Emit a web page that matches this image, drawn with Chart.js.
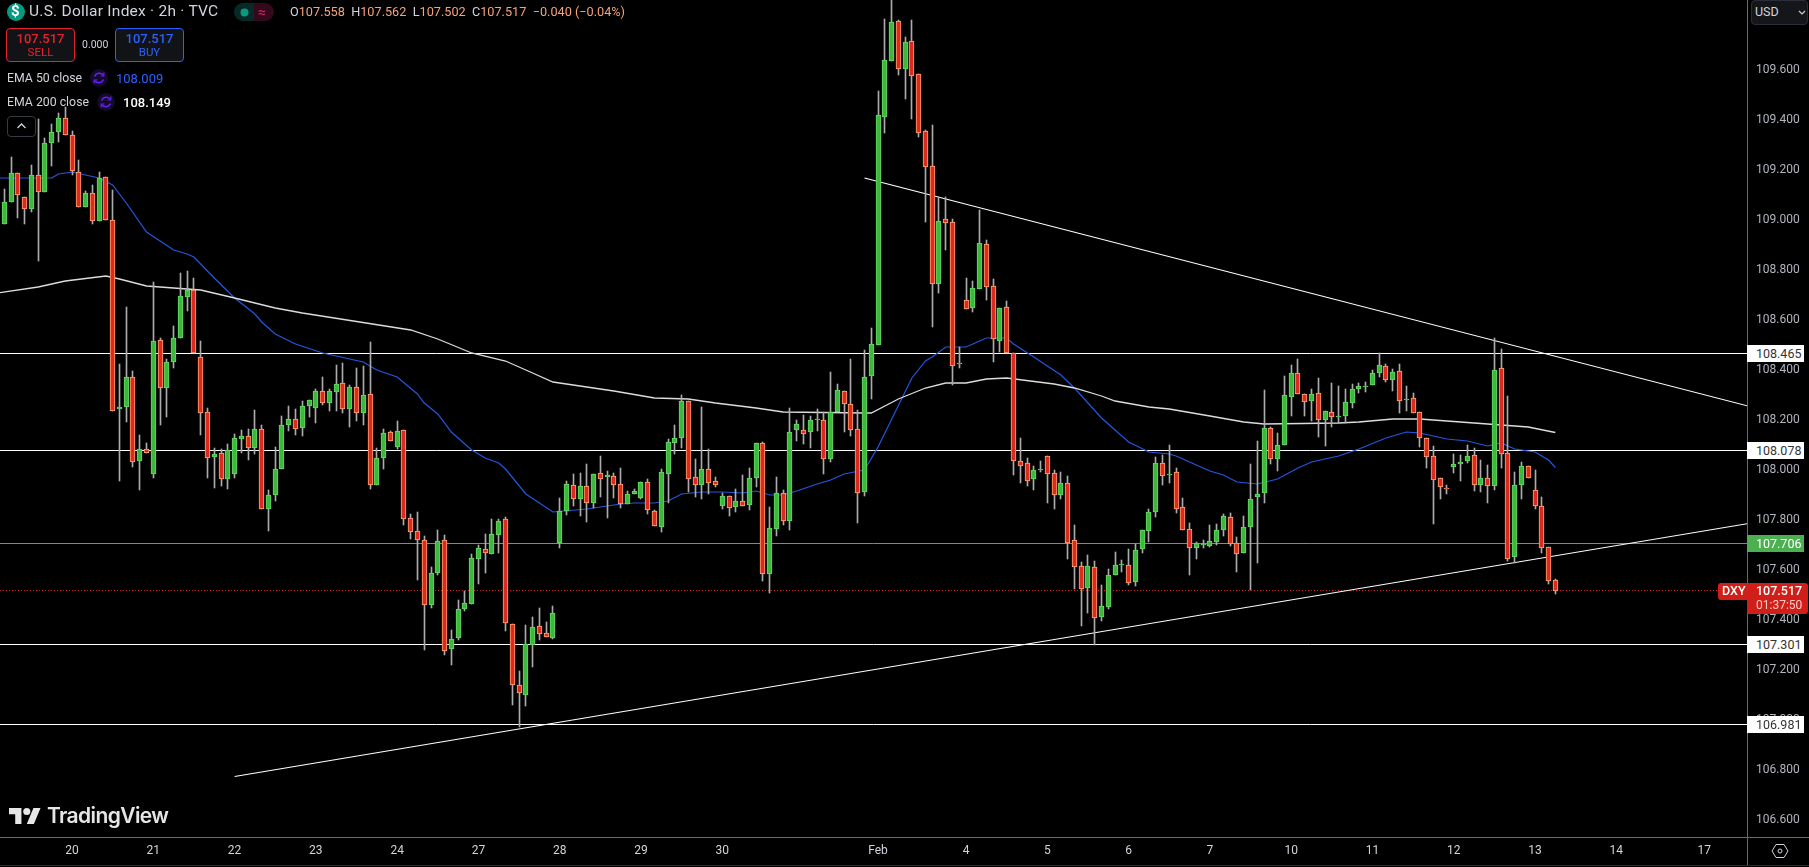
<!DOCTYPE html>
<html>
<head>
<meta charset="utf-8">
<title>U.S. Dollar Index 2h</title>
<script src="https://cdn.jsdelivr.net/npm/chart.js@4"></script>
<style>
html, body { margin: 0; padding: 0; background: #000; overflow: hidden; }
body { width: 1809px; height: 867px; position: relative; font-family: Roboto, sans-serif; }
#chart { position: absolute; left: 0; top: 0; display: block; }
.t { position: absolute; white-space: nowrap; line-height: 1; }
.box { position: absolute; box-sizing: border-box; border-radius: 4px; background: #121316; }
.tag { position: absolute; box-sizing: border-box; left: 1747px; width: 57px; height: 17px; font-size: 12.5px; line-height: 17px; padding-left: 9px; }
.rule { position: absolute; }
svg { position: absolute; }
</style>
</head>
<body>
<canvas id="chart" width="1809" height="867"></canvas>

<!-- legend -->
<svg style="left:7px;top:3px" width="18" height="18"><circle cx="9" cy="9" r="9" fill="#089981"/></svg>
<div class="t" style="left:11px;top:4px;font-size:15px;font-weight:700;color:#fff">$</div>
<div class="t" style="left:29px;top:4px;font-size:15.5px;letter-spacing:0.25px;color:#d1d4dc">U.S. Dollar Index · 2h · TVC</div>
<div class="box" style="left:234px;top:3px;width:20px;height:18px;background:#082a26;border-radius:9px 0 0 9px"></div>
<div class="box" style="left:254px;top:3px;width:20px;height:18px;background:#33091b;border-radius:0 9px 9px 0"></div>
<svg style="left:240px;top:8px" width="9" height="9"><circle cx="4.5" cy="4.5" r="4" fill="#089981"/></svg>
<div class="t" style="left:258px;top:5px;font-size:14px;color:#e91e63">≈</div>
<div class="t" id="ohlc" style="left:290px;top:6px;font-size:12.7px;color:#d1d4dc"></div>

<div class="box" style="left:6px;top:28px;width:69px;height:34px;border:1px solid #e5232e"></div>
<div class="t" style="left:6px;width:69px;text-align:center;top:32px;font-size:13px;font-weight:500;color:#e5232e">107.517</div>
<div class="t" style="left:6px;width:69px;text-align:center;top:47px;font-size:11.5px;color:#e5232e">SELL</div>
<div class="t" style="left:82px;top:40px;font-size:10.5px;color:#d1d4dc">0.000</div>
<div class="box" style="left:115px;top:28px;width:69px;height:34px;border:1px solid #2962ff"></div>
<div class="t" style="left:115px;width:69px;text-align:center;top:32px;font-size:13px;font-weight:500;color:#2962ff">107.517</div>
<div class="t" style="left:115px;width:69px;text-align:center;top:47px;font-size:11.5px;color:#2962ff">BUY</div>

<div class="t" style="left:7px;top:72px;font-size:12.3px;color:#d1d4dc">EMA 50 close</div>
<svg style="left:90px;top:69px" width="18" height="18"><circle cx="9" cy="9" r="9" fill="#140a2a"/><path d="M4.5 7.5 A5 5 0 0 1 13 6 M13.5 10.5 A5 5 0 0 1 5 12" fill="none" stroke="#651fff" stroke-width="1.6"/><path d="M13.8 3.5 V7 H10.5 M4.2 14.5 V11 H7.5" fill="none" stroke="#651fff" stroke-width="1.2"/></svg>
<div class="t" style="left:116px;top:72px;font-size:13px;color:#2962ff">108.009</div>
<div class="t" style="left:7px;top:96px;font-size:12.3px;color:#d1d4dc">EMA 200 close</div>
<svg style="left:97px;top:93px" width="18" height="18"><circle cx="9" cy="9" r="9" fill="#140a2a"/><path d="M4.5 7.5 A5 5 0 0 1 13 6 M13.5 10.5 A5 5 0 0 1 5 12" fill="none" stroke="#651fff" stroke-width="1.6"/><path d="M13.8 3.5 V7 H10.5 M4.2 14.5 V11 H7.5" fill="none" stroke="#651fff" stroke-width="1.2"/></svg>
<div class="t" style="left:123px;top:96px;font-size:13px;font-weight:500;color:#fff">108.149</div>
<div class="box" style="left:7px;top:116px;width:29px;height:21px;border:1px solid #363a45;background:#000"></div>
<svg style="left:16px;top:122px" width="11" height="8"><path d="M1.5 6 L5.5 2 L9.5 6" fill="none" stroke="#d1d4dc" stroke-width="1.3"/></svg>

<!-- watermark -->
<svg style="left:9px;top:805px" width="32" height="22" viewBox="0 3 36 20"><path d="M14 22H7V11H0V4h14v18z M28 22h-8l7.5-18h8L28 22z" fill="#e6e6e6"/><circle cx="20" cy="8" r="4" fill="#e6e6e6"/></svg>
<div class="t" style="left:47px;top:805px;font-family:Inter,sans-serif;font-size:21px;font-weight:600;color:#e6e6e6;letter-spacing:-0.6px">TradingView</div>

<!-- axis extras -->
<div class="rule" style="left:1747px;top:837px;width:62px;height:1px;background:#6a6a6a"></div>
<div class="rule" style="left:1747px;top:837px;width:1px;height:28px;background:#6a6a6a"></div>
<div class="rule" style="left:0;top:865px;width:1809px;height:1px;background:#2a2a2a"></div>
<div class="box" style="left:1751px;top:0;width:57px;height:25px;border:1px solid #2a2e39;background:#15161a"></div>
<div class="t" style="left:1755px;top:6px;font-size:12.5px;color:#d1d4dc">USD</div>
<svg style="left:1798px;top:10px" width="8" height="6"><path d="M1 1 L4 4 L7 1" fill="none" stroke="#d1d4dc" stroke-width="1.1"/></svg>
<svg style="left:1771px;top:842px" width="18" height="18"><path d="M5 2.5 H13 L17 9 L13 15.5 H5 L1 9 Z" fill="none" stroke="#d1d4dc" stroke-width="1"/><circle cx="9" cy="9" r="2" fill="none" stroke="#d1d4dc" stroke-width="1"/></svg>

<div id="tags"></div>

<script>
/* Candles, oldest first, one per 2h bar */
const opens = [
108.983,109.071,109.187,109.091,109.043,109.179,109.111,109.307,109.351,109.407,
109.339,109.191,109.051,109.107,108.995,109.171,108.999,108.243,108.251,108.371,
108.035,108.083,107.983,108.519,108.327,108.431,108.527,108.691,108.719,108.451,
108.231,108.051,108.067,107.963,107.983,108.123,108.135,108.087,108.163,107.843,
107.899,108.003,108.179,108.203,108.167,108.255,108.247,108.315,108.267,108.311,
108.347,108.243,108.331,108.227,108.303,107.939,108.047,108.151,108.091,108.159,
107.807,107.755,107.719,107.459,107.587,107.719,107.283,107.327,107.443,107.463,
107.643,107.683,107.663,107.739,107.803,107.383,107.139,107.099,107.299,107.375,
107.347,107.327,107.707,107.835,107.939,107.883,107.935,107.867,107.987,107.971,
107.975,107.943,107.863,107.903,107.887,107.951,107.835,107.771,107.983,108.107,
108.127,108.275,107.971,107.939,108.003,107.955,107.855,107.895,107.851,107.875,
107.859,107.967,108.107,107.583,107.763,107.907,107.795,108.159,108.159,108.151,
108.199,108.199,108.043,108.231,108.315,108.263,108.163,107.911,108.375,108.499,
109.411,109.635,109.795,109.603,109.715,109.583,109.355,109.215,108.743,109.003,
108.991,108.427,108.679,108.647,108.723,108.903,108.735,108.515,108.651,108.467,
108.035,108.027,107.963,108.001,108.055,107.987,107.899,107.947,107.719,107.615,
107.527,107.611,107.411,107.451,107.579,107.621,107.619,107.551,107.683,107.755,
107.831,108.027,107.981,107.991,107.851,107.763,107.687,107.703,107.695,107.711,
107.759,107.811,107.707,107.667,107.771,107.891,107.907,108.167,108.043,108.099,
108.291,108.387,108.303,108.275,108.307,108.199,108.231,108.213,108.215,108.267,
108.323,108.331,108.339,108.387,108.415,108.359,108.395,108.281,108.287,108.231,
108.127,108.055,107.967,107.927,108.011,108.023,108.035,108.059,107.939,107.967,
107.935,108.407,108.067,107.651,107.939,108.015,107.919,107.855,107.691,107.558];
const highs = [
109.123,109.251,109.187,109.091,109.219,109.403,109.327,109.383,109.427,109.451,
109.355,109.239,109.115,109.139,109.191,109.171,109.119,108.423,108.651,108.395,
108.139,108.107,108.751,108.527,108.443,108.575,108.787,108.795,108.767,108.515,
108.247,108.087,108.083,108.103,108.143,108.159,108.163,108.239,108.179,107.919,
108.091,108.215,108.255,108.243,108.275,108.279,108.323,108.371,108.323,108.419,
108.427,108.339,108.407,108.415,108.511,108.087,108.163,108.155,108.195,108.159,
107.823,107.831,107.735,107.611,107.759,107.739,107.359,107.479,107.515,107.663,
107.699,107.743,107.803,107.803,107.811,107.383,107.195,107.379,107.411,107.447,
107.391,107.455,107.887,107.955,107.983,107.987,108.023,107.983,108.055,107.995,
107.987,108.007,107.915,107.923,107.951,107.963,107.839,108.003,108.123,108.179,
108.299,108.275,108.043,108.251,108.083,107.971,107.907,107.895,107.923,107.979,
108.007,108.107,108.111,107.851,107.971,107.919,108.247,108.199,108.219,108.215,
108.243,108.231,108.391,108.343,108.315,108.443,108.239,108.479,108.567,109.515,
109.803,109.9,109.799,109.731,109.799,109.583,109.359,109.379,109.091,109.091,
109.003,108.491,108.767,108.755,109.039,108.919,108.763,108.647,108.675,108.467,
108.127,108.047,108.015,108.035,108.055,107.999,107.991,107.975,107.779,107.631,
107.659,107.635,107.539,107.603,107.671,107.639,107.683,107.703,107.759,107.843,
108.051,108.059,108.099,108.007,107.887,107.787,107.711,107.719,107.779,107.783,
107.823,107.827,107.731,107.815,108.023,108.115,108.319,108.171,108.147,108.375,
108.419,108.443,108.303,108.323,108.367,108.235,108.347,108.335,108.323,108.343,
108.347,108.351,108.399,108.467,108.423,108.403,108.423,108.335,108.307,108.231,
108.127,108.095,107.967,107.939,108.063,108.059,108.099,108.087,108.039,108.019,
108.527,108.483,108.295,107.991,108.031,108.015,107.999,107.891,107.691,107.562];
const lows = [
108.983,109.071,109.007,108.983,109.031,108.835,109.111,109.215,109.311,109.339,
109.179,109.051,109.051,108.983,108.995,108.999,108.235,107.955,108.191,108.011,
107.919,108.067,107.967,108.179,108.211,108.407,108.527,108.635,108.467,108.139,
107.967,107.927,107.935,107.923,107.967,108.067,108.039,108.063,107.843,107.755,
107.875,108.003,108.155,108.139,108.135,108.211,108.187,108.259,108.235,108.235,
108.227,108.171,108.195,108.179,107.923,107.939,108.003,108.115,108.083,107.779,
107.723,107.559,107.279,107.447,107.579,107.259,107.219,107.319,107.435,107.463,
107.543,107.587,107.663,107.667,107.355,107.059,106.971,107.055,107.211,107.319,
107.331,107.323,107.687,107.819,107.855,107.815,107.791,107.847,107.891,107.807,
107.887,107.847,107.863,107.903,107.883,107.823,107.775,107.751,107.867,108.063,
108.087,107.911,107.891,107.883,107.903,107.931,107.843,107.815,107.831,107.855,
107.839,107.931,107.555,107.507,107.735,107.779,107.759,108.115,108.103,108.087,
108.155,107.983,108.031,108.231,108.151,108.135,107.787,107.895,108.283,108.499,
109.347,109.635,109.579,109.483,109.403,109.331,108.991,108.571,108.707,108.879,
108.339,108.407,108.643,108.631,108.723,108.679,108.431,108.471,108.467,107.979,
107.947,107.935,107.919,107.991,107.867,107.843,107.883,107.643,107.523,107.375,
107.427,107.299,107.395,107.443,107.579,107.591,107.539,107.535,107.667,107.711,
107.811,107.939,107.947,107.827,107.759,107.579,107.643,107.687,107.691,107.699,
107.735,107.695,107.591,107.667,107.519,107.627,107.867,108.023,107.995,108.099,
108.215,108.303,108.215,108.195,108.131,108.095,108.171,108.187,108.187,108.247,
108.307,108.311,108.339,108.371,108.351,108.315,108.227,108.235,108.227,108.091,
108.007,107.783,107.883,107.903,107.987,107.955,108.027,107.915,107.911,107.867,
107.919,108.007,107.635,107.627,107.883,107.967,107.843,107.667,107.543,107.502];
const closes = [
109.071,109.187,109.099,109.043,109.179,109.111,109.307,109.351,109.407,109.339,
109.195,109.051,109.107,108.995,109.167,108.999,108.235,108.251,108.371,108.031,
108.083,108.067,108.515,108.327,108.431,108.527,108.695,108.719,108.467,108.227,
108.047,108.063,107.963,108.079,108.127,108.135,108.087,108.163,107.843,107.899,
108.003,108.179,108.203,108.163,108.255,108.279,108.315,108.267,108.315,108.343,
108.243,108.331,108.227,108.299,107.939,108.047,108.147,108.115,108.155,107.803,
107.751,107.719,107.459,107.587,107.715,107.275,107.323,107.443,107.467,107.647,
107.687,107.667,107.743,107.795,107.387,107.139,107.107,107.303,107.371,107.343,
107.331,107.427,107.835,107.943,107.883,107.935,107.867,107.983,107.963,107.979,
107.939,107.863,107.903,107.915,107.951,107.839,107.775,107.991,108.111,108.127,
108.275,107.963,107.939,108.003,107.947,107.939,107.895,107.847,107.875,107.855,
107.967,108.107,107.583,107.767,107.907,107.795,108.151,108.183,108.143,108.199,
108.203,108.043,108.231,108.319,108.263,108.159,107.907,108.371,108.503,109.419,
109.639,109.791,109.603,109.711,109.575,109.347,109.211,108.743,108.995,108.987,
108.415,108.425,108.643,108.727,108.907,108.731,108.523,108.647,108.467,108.035,
108.015,107.955,107.999,108.003,107.983,107.899,107.947,107.707,107.611,107.523,
107.615,107.407,107.455,107.579,107.619,107.623,107.547,107.679,107.759,107.831,
108.027,107.975,107.983,107.843,107.759,107.687,107.707,107.703,107.715,107.759,
107.815,107.703,107.663,107.771,107.883,107.903,108.167,108.043,108.099,108.299,
108.387,108.303,108.271,108.303,108.199,108.235,108.211,108.215,108.271,108.323,
108.335,108.335,108.387,108.419,108.359,108.391,108.275,108.283,108.227,108.127,
108.051,107.959,107.931,107.925,108.023,108.031,108.055,107.939,107.967,107.935,
108.399,108.063,107.643,107.939,108.015,107.967,107.855,107.687,107.555,107.517];

/* EMA lines, read at the bars listed */
const ema50Bars = [-1,7,8,10,12,14,16,18,21,25,27,28,31,34,37,38,40,43,47,53,55,58,61,62,64,66,69,71,73,74,77,81,86,89,91,93,96,98,100,103,106,109,111,113,115,117,120,122,124,127,129,134,136,137,139,142,144,145,148,149,152,156,158,162,166,169,172,173,178,180,182,185,188,191,193,197,200,204,207,209,213,216,219,221,223,226,228,229];
const ema50 = [109.167,109.167,109.183,109.191,109.179,109.167,109.139,109.067,108.951,108.879,108.863,108.851,108.767,108.687,108.623,108.591,108.543,108.503,108.467,108.431,108.399,108.371,108.303,108.267,108.223,108.151,108.079,108.047,108.027,108.003,107.903,107.831,107.843,107.855,107.863,107.867,107.867,107.875,107.903,107.911,107.911,107.907,107.915,107.899,107.899,107.915,107.943,107.959,107.983,107.999,108.091,108.367,108.435,108.451,108.491,108.491,108.515,108.527,108.527,108.503,108.451,108.379,108.327,108.207,108.111,108.071,108.063,108.055,107.995,107.979,107.951,107.943,107.963,108.007,108.031,108.055,108.083,108.127,108.151,108.147,108.123,108.115,108.095,108.107,108.083,108.071,108.039,108.009];
const ema200Bars = [-1,5,9,15,17,21,25,29,34,37,40,44,60,64,69,74,78,81,87,90,96,101,105,111,115,127,128,132,136,139,142,145,148,155,158,162,164,169,172,178,183,186,197,200,205,209,213,219,225,229];
const ema200 = [108.707,108.731,108.755,108.775,108.763,108.735,108.727,108.719,108.687,108.667,108.647,108.627,108.559,108.523,108.467,108.435,108.387,108.351,108.327,108.315,108.287,108.283,108.267,108.247,108.231,108.227,108.227,108.283,108.327,108.347,108.347,108.363,108.367,108.343,108.327,108.295,108.275,108.251,108.243,108.215,108.191,108.183,108.187,108.191,108.203,108.203,108.195,108.183,108.171,108.149];

/* Drawings */
const whiteLevels = [108.465, 108.078, 107.301, 106.981];
const greenLevel = 107.706;
const lastPrice = 107.517;
const upperTrendBars = [127, 258];
const upperTrend = [109.167, 108.251];
const lowerTrendBars = [34, 258];
const lowerTrend = [106.773, 107.787];

/* Axes */
const priceTicks = [106.6,106.8,107.0,107.2,107.4,107.6,107.8,108.0,108.2,108.4,108.6,108.8,109.0,109.2,109.4,109.6];
const dateTickBars = [10,22,34,46,58,70,82,94,106,129,142,154,166,178,190,202,214,226,238,251];
const dateTickLabels = ["20","21","22","23","24","27","28","29","30","Feb","4","5","6","7","10","11","12","13","14","17"];

const FIRST_BAR = -0.635, LAST_BAR = 257.3;
const PRICE_MIN = 106.531, PRICE_MAX = 109.879;

const RED = "#dc2a1e", RED_EDGE = "#ffa875", GREEN = "#3db83d", GREEN_EDGE = "#66d966";

/* OHLC legend */
const ohlcParts = [["O","107.558"],["H","107.562"],["L","107.502"],["C","107.517"]];
document.getElementById("ohlc").innerHTML =
    ohlcParts.map(p => `${p[0]}<span style="color:#f7a27a">${p[1]}</span>`).join(" &nbsp;") +
    ` &nbsp;<span style="color:#f7a27a">−0.040 (−0.04%)</span>`;

/* Datasets */
const pairs = (xs, ys) => xs.map((x, i) => ({ x, y: ys[i] }));
const level = (y, color, extra) => Object.assign({
    type: "line", data: pairs([FIRST_BAR, LAST_BAR], [y, y]), borderColor: color,
    borderWidth: 1, pointRadius: 0, order: 5, level: true
}, extra);
const line = (xs, ys, color, width, order) => ({
    type: "line", data: pairs(xs, ys), borderColor: color,
    borderWidth: width, pointRadius: 0, order
});

const isUp = i => closes[i] >= opens[i];

const datasets = [
    ...whiteLevels.map(v => level(v, "#ffffff")),
    level(greenLevel, "#4caf50"),
    level(lastPrice, "#e02020", { borderDash: [1, 2] }),
    line(upperTrendBars, upperTrend, "#ffffff", 1.1, 4),
    line(lowerTrendBars, lowerTrend, "#ffffff", 1.1, 4),
    line(ema200Bars, ema200, "#dcdcdc", 1.3, 3),
    line(ema50Bars, ema50, "#2457e0", 1.2, 3),
    {
        type: "bar", grouped: false, order: 1, candleWidth: 1, stack: "wick",
        data: opens.map((o, i) => ({ x: i, y: [lows[i], highs[i]] })),
        backgroundColor: "#ababab", barThickness: 1
    },
    {
        type: "bar", grouped: false, order: 0, candleWidth: 5, stack: "body",
        data: opens.map((o, i) => ({ x: i, y: [Math.min(o, closes[i]), Math.max(o, closes[i])] })),
        backgroundColor: opens.map((o, i) => isUp(i) ? GREEN : RED),
        borderColor: opens.map((o, i) => isUp(i) ? GREEN_EDGE : RED_EDGE),
        borderWidth: 1, borderSkipped: false, barThickness: 5
    }
];

/* Pixel snap, TradingView paints candles and levels on whole pixels */
const snapPlugin = {
    id: "snap",
    afterDatasetsUpdate(chart) {
        chart.data.datasets.forEach((ds, d) => {
            const meta = chart.getDatasetMeta(d);
            if (ds.candleWidth) {
                meta.data.forEach(el => {
                    el.width = ds.candleWidth;
                    el.x = Math.floor(el.x) + 0.5;
                    const top = Math.round(Math.min(el.y, el.base));
                    const bottom = Math.max(Math.round(Math.max(el.y, el.base)), top + 1);
                    el.y = top;
                    el.base = bottom;
                    el.height = bottom - top;
                });
            }
            if (ds.level) {
                meta.data.forEach(p => { p.y = Math.floor(p.y) + 0.5; });
            }
        });
    }
};

/* Plot runs edge to edge, drop the room Chart.js keeps for end labels */
const noEdgePadding = s => {
    s.paddingLeft = s.paddingRight = s.paddingTop = s.paddingBottom = 0;
};

const chart = new Chart(document.getElementById("chart"), {
    type: "bar",
    data: { datasets },
    plugins: [snapPlugin],
    options: {
        responsive: false,
        animation: false,
        events: [],
        layout: { padding: 0 },
        plugins: { legend: { display: false }, tooltip: { enabled: false } },
        scales: {
            x: {
                type: "linear", min: FIRST_BAR, max: LAST_BAR, stacked: false, offset: false,
                grid: { display: false, drawTicks: false, offset: false },
                border: { display: true, color: "#6a6a6a" },
                afterBuildTicks: s => { s.ticks = dateTickBars.map(value => ({ value })); },
                afterFit: s => { s.height = 30; noEdgePadding(s); },
                ticks: {
                    autoSkip: false, maxRotation: 0, padding: 7, color: "#d1d4dc",
                    font: { family: "Roboto", size: 12 },
                    callback: v => dateTickLabels[dateTickBars.indexOf(v)]
                }
            },
            y: {
                position: "right", min: PRICE_MIN, max: PRICE_MAX,
                grid: { display: false, drawTicks: false },
                border: { display: true, color: "#6a6a6a" },
                afterBuildTicks: s => { s.ticks = priceTicks.map(value => ({ value })); },
                afterFit: s => { s.width = 62; noEdgePadding(s); },
                ticks: {
                    autoSkip: false, padding: 9, crossAlign: "near", color: "#b2b5be",
                    font: { family: "Roboto", size: 12 },
                    callback: v => v.toFixed(3)
                }
            }
        }
    }
});

/* Price tags on the axis */
const tagsEl = document.getElementById("tags");
const yPx = v => chart.scales.y.getPixelForValue(v);
const addTag = (v, bg, fg) => {
    tagsEl.innerHTML += `<div class="tag" style="top:${Math.round(yPx(v) - 8.5)}px;background:${bg};color:${fg}">${v.toFixed(3)}</div>`;
};
whiteLevels.forEach(v => addTag(v, "#ffffff", "#333333"));
addTag(greenLevel, "#4caf50", "#ffffff");
const lastY = Math.round(yPx(lastPrice));
tagsEl.innerHTML += `
    <div class="box" style="left:1718px;top:${lastY - 8}px;width:29px;height:17px;background:#d01f18;border-radius:3px 0 0 3px"></div>
    <div class="t" style="left:1722px;top:${lastY - 6}px;font-size:12.5px;font-weight:500;color:#fff">DXY</div>
    <div class="box" style="left:1747px;top:${lastY - 8}px;width:61px;height:31px;background:#d01f18;border-radius:0 3px 3px 0"></div>
    <div class="t" style="left:1756px;top:${lastY - 6}px;font-size:12.5px;font-weight:500;color:#fff">${lastPrice.toFixed(3)}</div>
    <div class="t" style="left:1756px;top:${lastY + 8}px;font-size:12px;color:#ffc9c4">01:37:50</div>`;
</script>
</body>
</html>
